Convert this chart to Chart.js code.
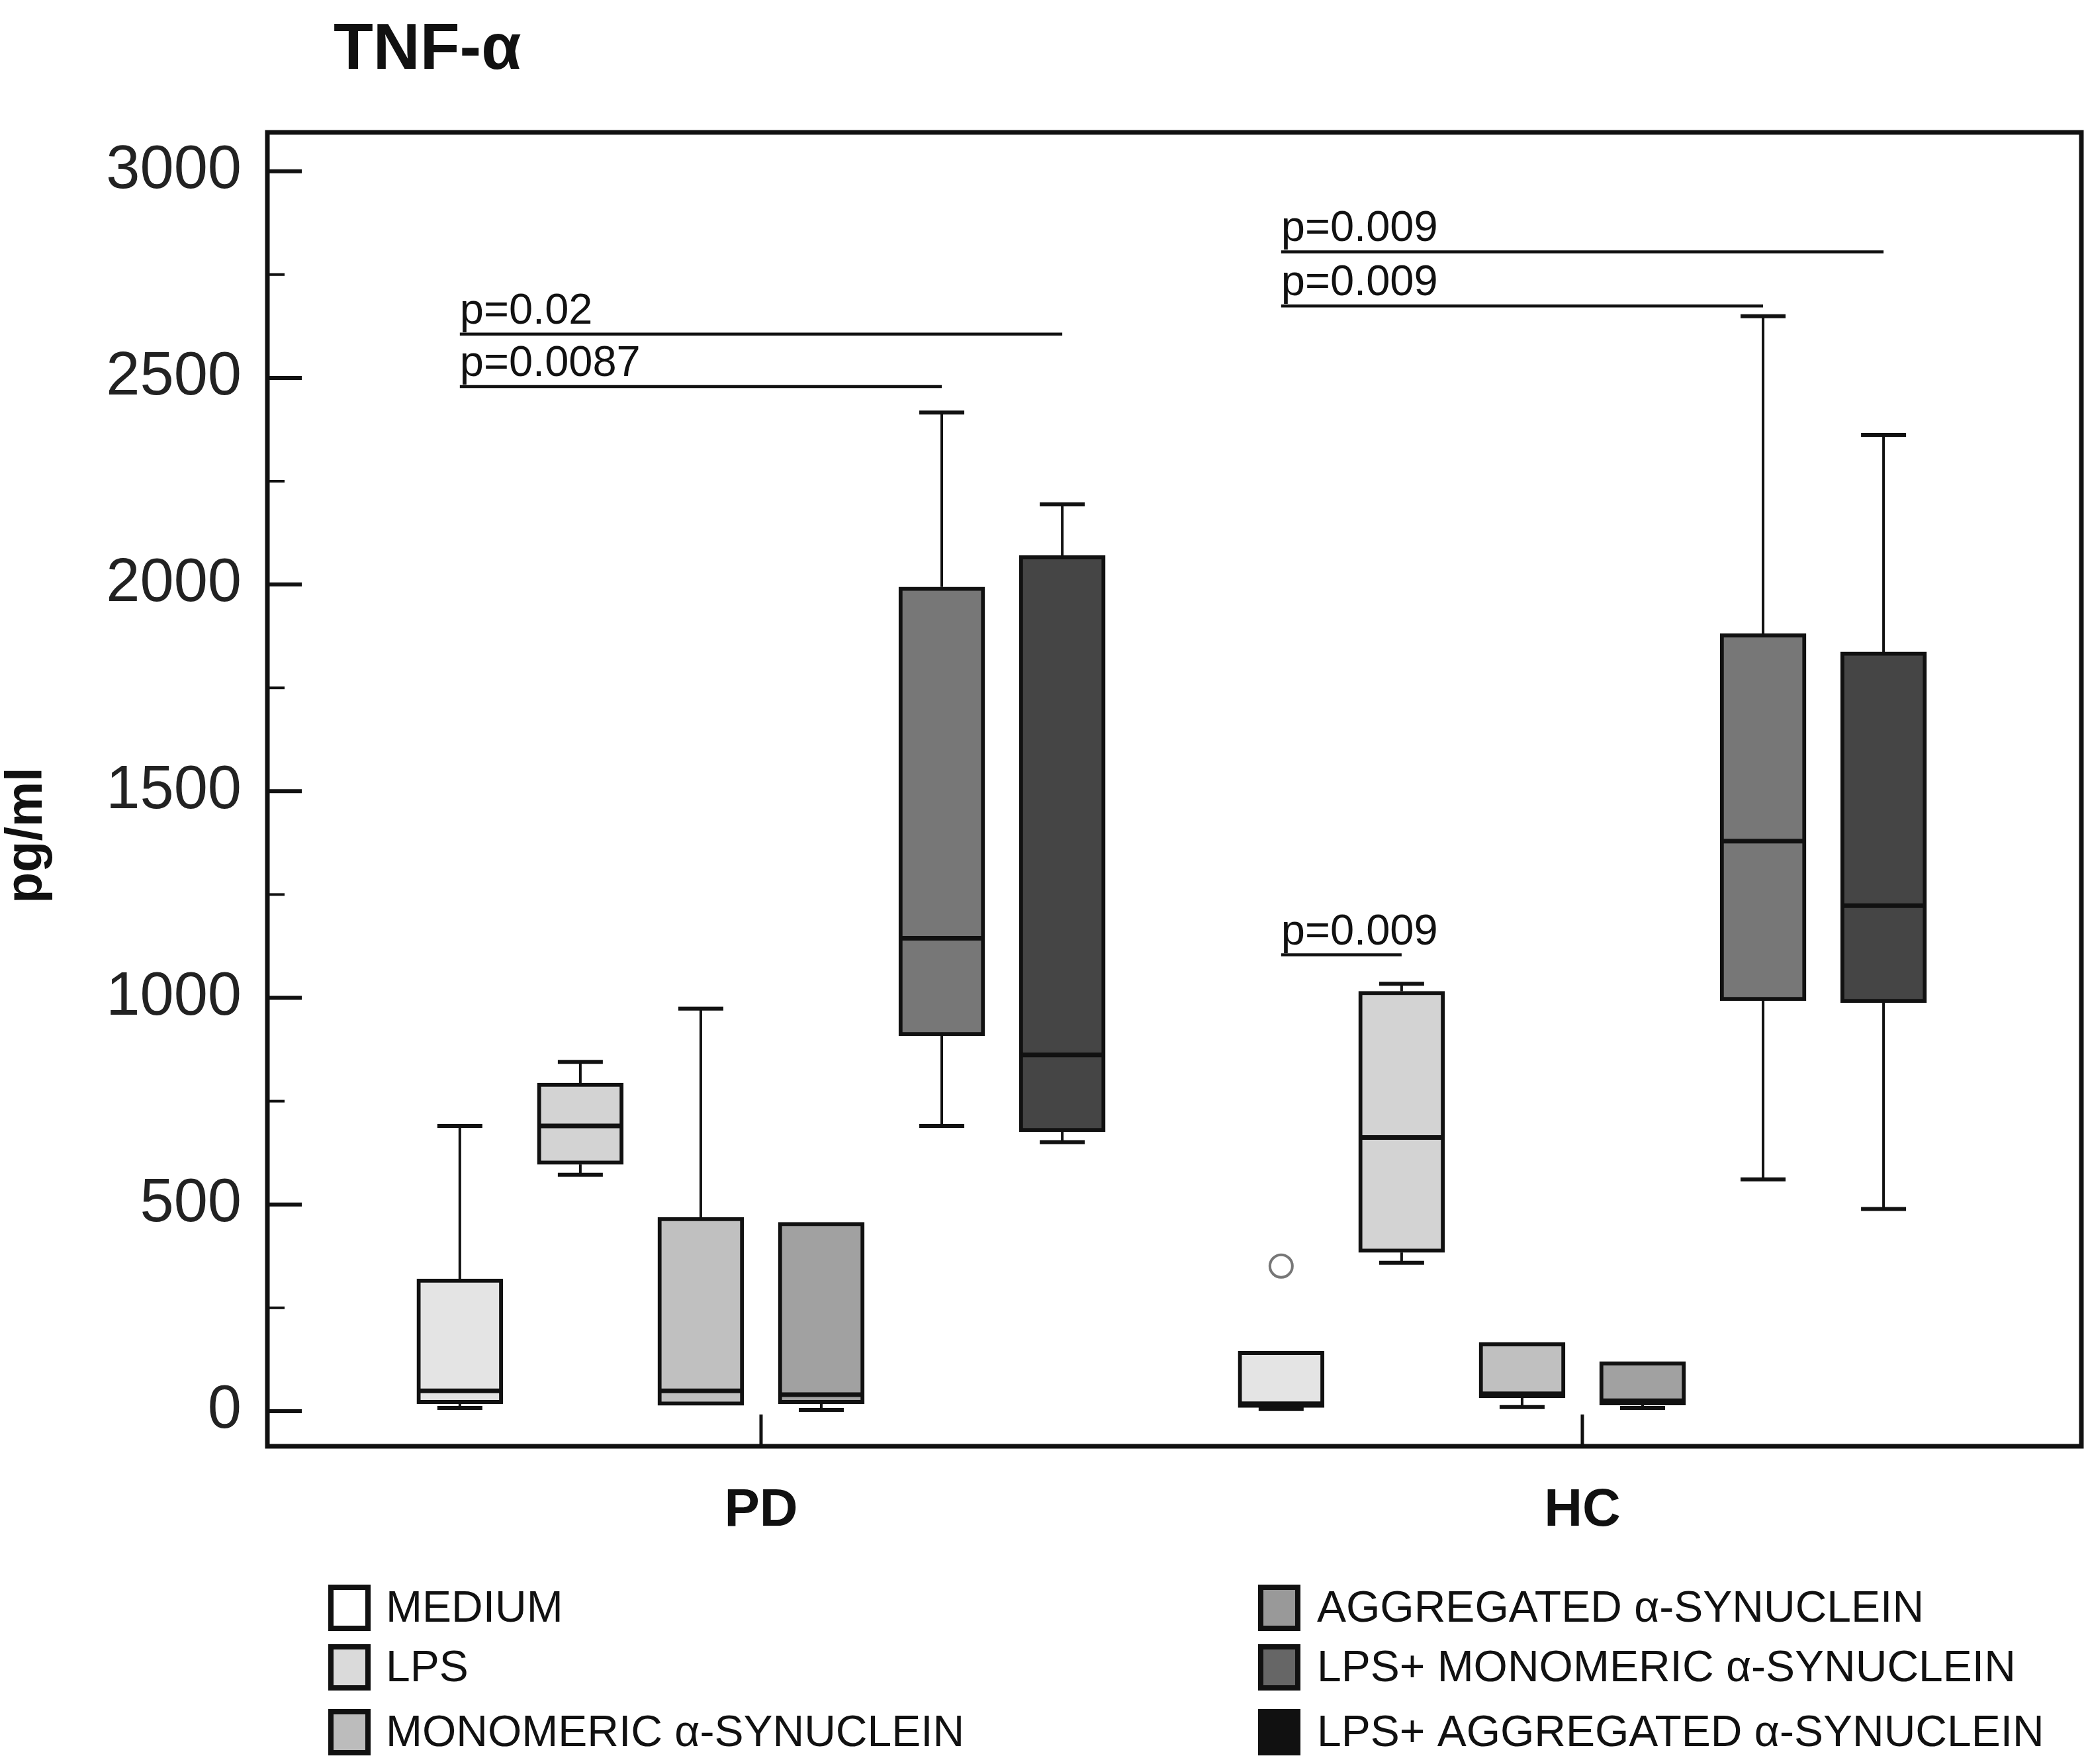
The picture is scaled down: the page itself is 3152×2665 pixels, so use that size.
<!DOCTYPE html>
<html>
<head>
    <title>TNF-α</title>
    <script src="https://cdn.jsdelivr.net/npm/chart.js@4.4.1/dist/chart.umd.min.js"></script>
    <style>
        html, body { margin: 0; padding: 0; background: #fff; overflow: hidden; }
        #chart { display: block; }
    </style>
</head>
<body>
    <canvas id="chart" width="3152" height="2665"></canvas>

    <script>
        // Categories and treatments
        const groups = ['PD', 'HC'];
        const treatments = [
            'MEDIUM',
            'LPS',
            'MONOMERIC α-SYNUCLEIN',
            'AGGREGATED α-SYNUCLEIN',
            'LPS+ MONOMERIC α-SYNUCLEIN',
            'LPS+ AGGREGATED α-SYNUCLEIN'
        ];
        const yTicks = [0, 500, 1000, 1500, 2000, 2500, 3000];

        // Box plot values (pg/ml), one entry per treatment
        const pdMin    = [8, 572, 14, 3, 690, 651];
        const pdQ1     = [18, 597, 14, 18, 908, 676];
        const pdMedian = [49, 690, 49, 40, 1144, 862];
        const pdQ3     = [320, 794, 469, 457, 1994, 2070];
        const pdMax    = [690, 845, 974, 457, 2416, 2194];

        const hcMin    = [5, 359, 10, 8, 561, 489];
        const hcQ1     = [9, 384, 32, 15, 993, 988];
        const hcMedian = [18, 662, 42, 25, 1379, 1223];
        const hcQ3     = [145, 1016, 166, 120, 1881, 1837];
        const hcMax    = [145, 1034, 166, 120, 2649, 2362];

        // Outliers
        const outlierGroup = [1];
        const outlierTreatment = [0];
        const outlierValue = [351];

        // Significance brackets
        const pLabels = ['p=0.02', 'p=0.0087', 'p=0.009', 'p=0.009', 'p=0.009'];
        const pGroup  = [0, 0, 1, 1, 1];
        const pFrom   = [0, 0, 0, 0, 0];
        const pTo     = [5, 4, 5, 4, 1];
        const pLevel  = [2606, 2479, 2805, 2674, 1104];

        // Styles
        const FONT = '"Liberation Sans", Arial, Helvetica, sans-serif';
        const boxFill = ['#e4e4e4', '#d3d3d3', '#c0c0c0', '#a1a1a1', '#777777', '#454545'];
        const legendFill = ['#ffffff', '#dadada', '#bcbcbc', '#999999', '#666666', '#111111'];
        const INK = '#111111';
        const SPACING = 0.1467;
        const BOX_W = 130;
        const CAP_W = 68;

        const stats = [
            { min: pdMin, q1: pdQ1, med: pdMedian, q3: pdQ3, max: pdMax },
            { min: hcMin, q1: hcQ1, med: hcMedian, q3: hcQ3, max: hcMax }
        ];
        const posOf = (g, i) => g + 1 + (i - 2.5) * SPACING;

        function hLine(ctx, x1, x2, y, w) {
            ctx.lineWidth = w;
            ctx.beginPath(); ctx.moveTo(x1, y); ctx.lineTo(x2, y); ctx.stroke();
        }
        function vLine(ctx, x, y1, y2, w) {
            ctx.lineWidth = w;
            ctx.beginPath(); ctx.moveTo(x, y1); ctx.lineTo(x, y2); ctx.stroke();
        }

        // whiskers + medians on top of the floating bars
        const boxPlotPlugin = {
            id: 'boxPlot',
            afterDatasetsDraw(chart) {
                const { ctx, scales: { x, y } } = chart;
                ctx.save();
                ctx.strokeStyle = INK;
                ctx.lineCap = 'butt';
                stats.forEach((s, g) => {
                    treatments.forEach((t, i) => {
                        const cx = x.getPixelForValue(posOf(g, i));
                        if (s.max[i] > s.q3[i]) {
                            vLine(ctx, cx, y.getPixelForValue(s.q3[i]), y.getPixelForValue(s.max[i]), 4);
                            hLine(ctx, cx - CAP_W / 2, cx + CAP_W / 2, y.getPixelForValue(s.max[i]), 6);
                        }
                        if (s.min[i] < s.q1[i]) {
                            vLine(ctx, cx, y.getPixelForValue(s.q1[i]), y.getPixelForValue(s.min[i]), 4);
                            hLine(ctx, cx - CAP_W / 2, cx + CAP_W / 2, y.getPixelForValue(s.min[i]), 6);
                        }
                        hLine(ctx, cx - BOX_W / 2 + 3, cx + BOX_W / 2 - 3, y.getPixelForValue(s.med[i]), 7);
                    });
                });
                ctx.restore();
            }
        };

        // frame, inside ticks, brackets, titles, legend
        const decorPlugin = {
            id: 'decor',
            afterDraw(chart) {
                const { ctx, chartArea: a, scales: { x, y } } = chart;
                ctx.save();
                ctx.strokeStyle = INK;
                ctx.fillStyle = INK;

                ctx.lineWidth = 7;
                ctx.strokeRect(a.left, a.top, a.right - a.left, a.bottom - a.top);

                yTicks.forEach((v, k) => {
                    hLine(ctx, a.left, a.left + 52, y.getPixelForValue(v), 6);
                    if (k < yTicks.length - 1) {
                        hLine(ctx, a.left, a.left + 26, y.getPixelForValue((v + yTicks[k + 1]) / 2), 4);
                    }
                });
                groups.forEach((g, k) => {
                    vLine(ctx, x.getPixelForValue(k + 1), a.bottom, a.bottom - 48, 5);
                });

                ctx.font = '65px ' + FONT;
                ctx.textAlign = 'left';
                ctx.textBaseline = 'alphabetic';
                pLabels.forEach((label, k) => {
                    const x1 = x.getPixelForValue(posOf(pGroup[k], pFrom[k]));
                    const x2 = x.getPixelForValue(posOf(pGroup[k], pTo[k]));
                    const ly = y.getPixelForValue(pLevel[k]);
                    hLine(ctx, x1, x2, ly, 4.5);
                    ctx.fillText(label, x1, ly - 16);
                });

                ctx.font = 'bold 98px ' + FONT;
                ctx.fillText('TNF-α', 504, 104);

                ctx.save();
                ctx.translate(42, 1262);
                ctx.rotate(-Math.PI / 2);
                ctx.textAlign = 'center';
                ctx.textBaseline = 'middle';
                ctx.font = 'bold 77px ' + FONT;
                ctx.fillText('pg/ml', 0, 0);
                ctx.restore();

                const colSwatch = [496, 1901];
                const colText = [583, 1990];
                const rowY = [2429, 2519, 2617];
                ctx.font = '66px ' + FONT;
                ctx.textBaseline = 'middle';
                ctx.textAlign = 'left';
                treatments.forEach((t, i) => {
                    const col = i < 3 ? 0 : 1;
                    const cy = rowY[i % 3];
                    ctx.fillStyle = INK;
                    ctx.fillRect(colSwatch[col], cy - 35, 64, 70);
                    ctx.fillStyle = legendFill[i];
                    ctx.fillRect(colSwatch[col] + 8, cy - 27, 48, 54);
                    ctx.fillStyle = INK;
                    ctx.fillText(t, colText[col], cy + 3);
                });
                ctx.restore();
            }
        };

        const datasets = treatments.map((t, i) => ({
            type: 'bar',
            label: t,
            data: stats.map((s, g) => ({ x: posOf(g, i), y: [s.q1[i], s.q3[i]] })),
            backgroundColor: boxFill[i],
            borderColor: INK,
            borderWidth: 6,
            borderSkipped: false,
            barThickness: BOX_W,
            grouped: false
        }));
        datasets.push({
            type: 'scatter',
            label: 'outliers',
            data: outlierValue.map((v, k) => ({ x: posOf(outlierGroup[k], outlierTreatment[k]), y: v })),
            pointRadius: 17,
            pointBorderWidth: 4,
            borderColor: '#777777',
            backgroundColor: '#ffffff'
        });

        const chart = new Chart(document.getElementById('chart'), {
            type: 'bar',
            data: { datasets },
            plugins: [boxPlotPlugin, decorPlugin],
            options: {
                responsive: false,
                animation: false,
                devicePixelRatio: 1,
                layout: { autoPadding: false, padding: { left: 0, top: 200, right: 7, bottom: 0 } },
                plugins: {
                    legend: { display: false },
                    title: { display: false },
                    tooltip: { enabled: false }
                },
                scales: {
                    x: {
                        type: 'linear',
                        min: 0.3989,
                        max: 2.6076,
                        offset: false,
                        grid: { display: false, drawTicks: false },
                        border: { display: false },
                        afterBuildTicks: s => { s.ticks = groups.map((g, k) => ({ value: k + 1 })); },
                        afterFit: s => { s.height = 480; },
                        ticks: {
                            callback: v => groups[Math.round(v) - 1] || '',
                            font: { family: FONT, size: 80, weight: 'bold' },
                            color: INK,
                            padding: 50,
                            maxRotation: 0,
                            autoSkip: false
                        }
                    },
                    y: {
                        min: -85,
                        max: 3094,
                        grid: { display: false, drawTicks: false },
                        border: { display: false },
                        afterBuildTicks: s => { s.ticks = yTicks.map(v => ({ value: v })); },
                        afterFit: s => { s.width = 404; },
                        ticks: {
                            callback: v => String(v),
                            font: { family: FONT, size: 92 },
                            color: '#222222',
                            padding: 39
                        }
                    }
                }
            }
        });
    </script>
</body>
</html>
